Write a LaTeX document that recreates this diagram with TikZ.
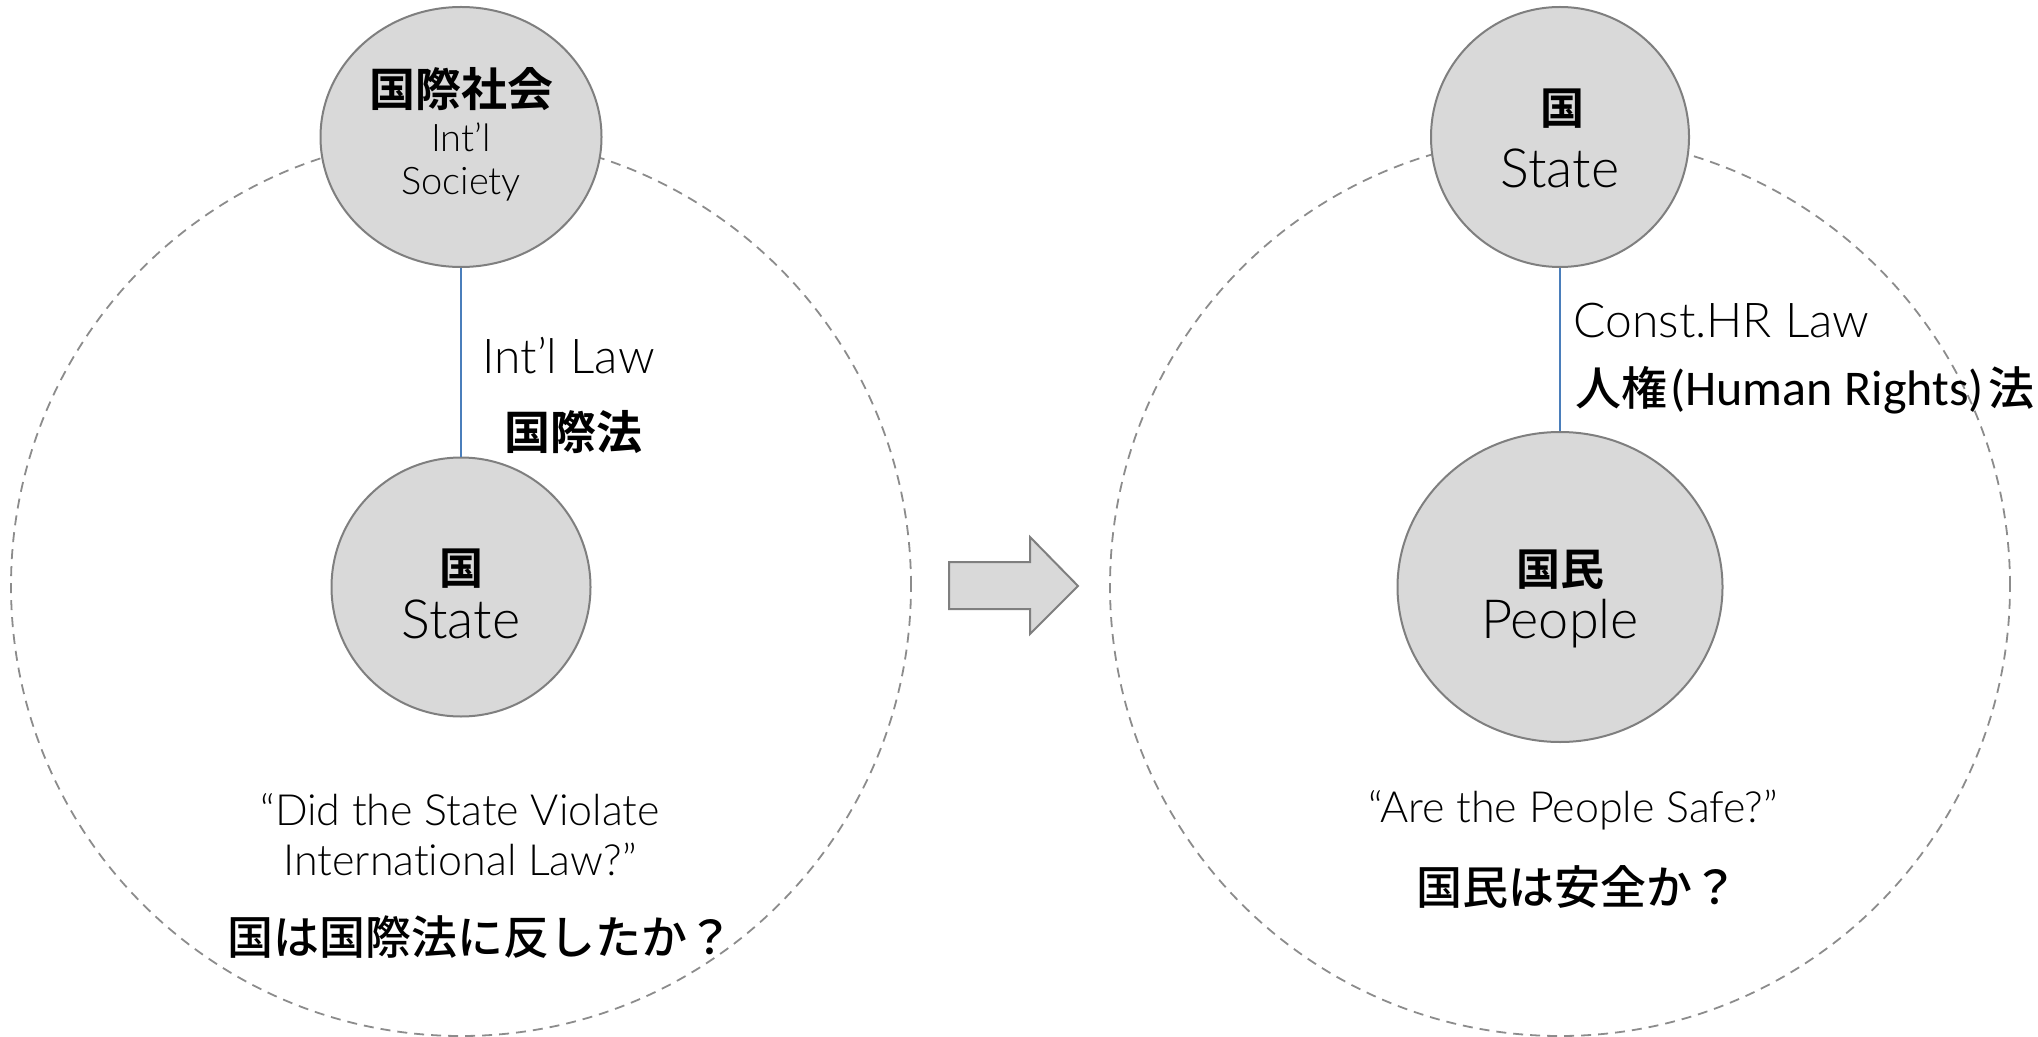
\documentclass[tikz,border=0pt]{standalone}
\usepackage{fontspec}
\setmainfont{Lato Light}[Ligatures=NoCommon]
\newfontfamily\cjk{Noto Sans CJK JP}[BoldFont=* Bold]
\newfontfamily\cjkmid{Noto Sans CJK JP Medium}
\newfontfamily\calib{Carlito}
\usetikzlibrary{positioning, shapes.geometric}

\definecolor{bubblefill}{HTML}{D9D9D9}
\definecolor{bubbleline}{HTML}{7F7F7F}
\definecolor{ringgray}{HTML}{8C8C8C}
\definecolor{lawblue}{HTML}{4A7EBB}

\tikzset{
    bubble/.style={ellipse, draw=bubbleline, fill=bubblefill, line width=1pt, inner sep=0pt},
    ring/.style={circle, draw=ringgray, dash pattern=on 5pt off 3.5pt, line width=0.9pt,
        minimum size=450pt, inner sep=0pt},
    law/.style={draw=lawblue, line width=1pt},
    shiftarrow/.style={draw=bubbleline, fill=bubblefill, line width=1pt, line join=miter},
    en/.style={font=\fontsize{#1}{#1}\selectfont, inner sep=0pt, anchor=base},
    jab/.style={font=\cjk\bfseries\fontsize{#1}{#1}\selectfont, inner sep=0pt, anchor=base},
    ja/.style={font=\cjkmid\fontsize{#1}{#1}\selectfont, inner sep=0pt, anchor=base}
}

\begin{document}
\begin{tikzpicture}[x=0.5pt, y=-0.5pt]
    \useasboundingbox (0,0) rectangle (2038,1037);

    % outer rings
    \node[ring] (worldL) at (461,586) {};
    \node[ring] (worldR) at (1560,586) {};

    % left: society -> state
    \node[bubble, minimum width=140.5pt, minimum height=130pt] (soc) at (461,137) {};
    \node[bubble, minimum width=129.5pt, minimum height=129.5pt] (stL) at (461,587) {};
    \path[law] (soc) -- (stL);

    % right: state -> people
    \node[bubble, minimum width=129pt, minimum height=130pt] (stR) at (1560,137) {};
    \node[bubble, minimum width=162.5pt, minimum height=155pt] (ppl) at (1560,587) {};
    \path[law] (stR) -- (ppl);

    % arrow in the middle
    \draw[shiftarrow] (949,562) -- (1030,562) -- (1030,537) -- (1078,586)
        -- (1030,634) -- (1030,609) -- (949,609) -- cycle;

    % left labels
    \node[jab=23] (socJa) at (461,107) {国際社会};
    \node[en=19] (socEn1) at (461,152) {Int’l};
    \node[en=19] (socEn2) at (461,195) {Society};
    \node[en=24, anchor=base west] (lawL) at (482,373) {Int’l Law};
    \node[jab=23] (lawLJa) at (573,449) {国際法};
    \node[jab=22] (stLJa) at (461,584) {国};
    \node[en=27] (stLEn) at (461,638) {State};
    \node[en=21.5] (qL1) at (460,825) {“Did the State Violate};
    \node[en=21.5] (qL2) at (460,875) {International Law?”};
    \node[ja=23] (qLJa) at (480,954) {国は国際法に反したか？};

    % right labels
    \node[jab=22] (stRJa) at (1562,125) {国};
    \node[en=24, anchor=base west] (lawR) at (1573,338) {Const.HR Law};
    \node[en=27] (stREn) at (1560,188) {State};
    \node[ja=23, anchor=base west] (lawRJa) at (1575,405)
        {人権{\calib\fontsize{25}{25}\selectfont\kern1.5pt(Human Rights)\kern2.5pt}法};
    \node[jab=22] (pplJa) at (1560,585) {国民};
    \node[en=27] (pplEn) at (1560,638) {People};
    \node[en=21.5] (qR1) at (1573,822) {“Are the People Safe?”};
    \node[ja=23] (qRJa) at (1577,904) {国民は安全か？};
\end{tikzpicture}
\end{document}
